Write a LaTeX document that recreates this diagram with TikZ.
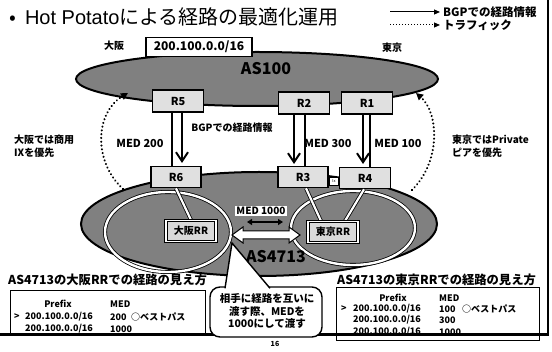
\documentclass[tikz,border=0pt]{standalone}
\usepackage{fontspec}
\setmainfont{Noto Sans CJK JP}
\newfontfamily\lat{Liberation Sans}
\usetikzlibrary{arrows.meta}
\begin{document}
\begin{tikzpicture}[x=1pt,y=-1pt,
  rbox/.style={draw=black, line width=1.6pt, fill=black!12, minimum width=51pt, minimum height=22pt, font=\bfseries\fontsize{11}{11}\selectfont, inner sep=0pt},
  rrbox/.style={draw=black, line width=1pt, double=white, double distance=1.6pt, fill=black!15, minimum width=50pt, minimum height=21pt, font=\bfseries\fontsize{10}{10}\selectfont, inner sep=0pt},
  lbl/.style={font=\bfseries\fontsize{10}{10}\selectfont, inner sep=0pt},
  leglbl/.style={font=\bfseries\fontsize{11.5}{11.5}\selectfont, inner sep=0pt, anchor=west},
  medlbl/.style={font=\bfseries\fontsize{11}{11}\selectfont, inner sep=0pt},
  side/.style={font=\bfseries\fontsize{10}{12.5}\selectfont, inner sep=0pt, align=left, anchor=west},
  head/.style={font=\bfseries\fontsize{12.3}{12.3}\selectfont, inner sep=0pt, anchor=west},
  tbl/.style={font=\bfseries\fontsize{9}{9}\selectfont, inner sep=0pt, anchor=west},
  bgp/.style={line width=2pt, -{Straight Barb[length=9pt,width=12pt,line width=2pt]}},
  link/.style={line width=1.2pt},
  wlink/.style={draw=black, line width=0.8pt, double=white, double distance=2.2pt},
  traffic/.style={line width=2.3pt, line cap=round, dash pattern=on 0.01pt off 3.8pt, -{Triangle[length=7pt,width=7pt]}},
  bigtxt/.style={font=\bfseries\fontsize{16}{16}\selectfont, inner sep=0pt}
]
\useasboundingbox (0,0) rectangle (552,352);
\fill[white] (0,0) rectangle (552,352);

% title and legend
\node[anchor=west, inner sep=0pt, font=\fontsize{20}{20}\selectfont] (title) at (9,17) {•\hspace{9pt}{\lat Hot Potato}による経路の最適化運用};
\coordinate (l1a) at (390,12); \coordinate (l1b) at (440,12);
\coordinate (l2a) at (390,25); \coordinate (l2b) at (440,25);
\draw[line width=1pt, -{Triangle[length=6pt,width=5pt]}] (l1a) -- (l1b);
\draw[line width=1pt, dotted, -{Triangle[length=6pt,width=5pt]}] (l2a) -- (l2b);
\node[leglbl] (leg1) at (443,12) {BGPでの経路情報};
\node[leglbl] (leg2) at (443,25) {トラフィック};

% right border
\draw[line width=1.4pt] (548,0) -- (548,334);

% AS100
\draw[line width=2pt, fill=black!50] (257,79) ellipse [x radius=181pt, y radius=27pt];
\node[bigtxt] (as100) at (266,69) {AS100};
\node[draw=black, line width=1.6pt, fill=white, minimum width=106pt, minimum height=19pt, inner sep=0pt, font=\bfseries\fontsize{12}{12}\selectfont] (pfx) at (199,47) {200.100.0.0/16};
\node[lbl] (osaka) at (114,46) {大阪};
\node[lbl] (tokyo) at (392,48) {東京};

% AS4713
\draw[line width=2pt, fill=black!50] (259,224) ellipse [x radius=178pt, y radius=52pt];
\draw[draw=black, line width=0.8pt, double=white, double distance=2.4pt] (168,232) ellipse [x radius=63pt, y radius=40pt];
\draw[draw=black, line width=0.8pt, double=white, double distance=2.4pt] (353,228) ellipse [x radius=62pt, y radius=37pt];

% routers
\node[rbox] (R5) at (178,101) {R5};
\node[rbox] (R2) at (304,103) {R2};
\node[rbox] (R1) at (367,103) {R1};
\node[rbox, minimum width=50pt, minimum height=21pt] (R6) at (176,177) {R6};
\node[rbox, minimum width=50pt, minimum height=21pt] (R3) at (303,177) {R3};
\node[rbox, minimum width=51pt, minimum height=21pt] (R4) at (365,178) {R4};
\node[draw=black, line width=0.8pt, fill=white, minimum width=9pt, minimum height=8pt, inner sep=0pt, font=\fontsize{4}{4}\selectfont] (ix) at (334,181) {Ix};
\draw[link] (R3.east |- ix.west) -- (ix.west);
\draw[link] (ix.east) -- (R4.west |- ix.east);

% links and BGP arrows
\draw[link] (R5.south -| 172,0) -- (R6.north -| 172,0);
\draw[link] (R2.south -| 305,0) -- (R3.north -| 305,0);
\draw[link] (R1.south -| 370,0) -- (R4.north -| 370,0);
\coordinate (a5) at (182,163); \coordinate (a2) at (294,164); \coordinate (a1) at (363,164);
\draw[bgp] (R5.south -| a5) -- (a5);
\draw[bgp] (R2.south -| a2) -- (a2);
\draw[bgp] (R1.south -| a1) -- (a1);

\node[medlbl] (m200) at (140,143) {MED 200};
\node[medlbl] (m300) at (328,143) {MED 300};
\node[medlbl] (m100) at (398,143) {MED 100};
\node[lbl] (bgplbl) at (232,128) {BGPでの経路情報};
\node[side] (oskt) at (14,146) {大阪では商用\\IXを優先};
\node[side] (tkyt) at (452,146) {東京ではPrivate\\ピアを優先};

% RR
\node[rrbox] (ORR) at (191,231) {大阪RR};
\node[rrbox] (TRR) at (333,232) {東京RR};
\draw[wlink] (R6.south) -- (ORR.north);
\draw[wlink] ([xshift=3pt]R3.south) -- ([xshift=-12pt]TRR.north);
\draw[wlink] ([xshift=-1pt]R4.south) -- ([xshift=12pt]TRR.north);
\node[rrbox] at (ORR) {大阪RR};
\node[rrbox] at (TRR) {東京RR};

\node[font=\bfseries\fontsize{10}{10}\selectfont, fill=white, inner sep=1pt] (m1000) at (261,211) {MED 1000};
\coordinate (s1) at (247,222); \coordinate (s2) at (283,222);
\draw[line width=1.5pt, {Triangle[length=5pt,width=6pt]}-{Triangle[length=5pt,width=6pt]}] (s1) -- (s2);
\draw[line width=1pt, fill=white] (232,235) -- (243,227) -- (243,231) -- (289,231) -- (289,227) -- (300,235) -- (289,243) -- (289,239) -- (243,239) -- (243,243) -- cycle;
\node[bigtxt] (as4713) at (276,257) {AS4713};

% traffic arrows
\coordinate (t1s) at (123,189); \coordinate (t1e) at (128,93);
\coordinate (t2s) at (412,190); \coordinate (t2e) at (416,93);
\draw[traffic] (t1s) .. controls (92,160) and (96,112) .. (t1e);
\draw[traffic] (t2s) .. controls (442,160) and (438,112) .. (t2e);

% tables
\node[head] (hl) at (8,280) {AS4713の大阪RRでの経路の見え方};
\node[head] (hr) at (337,280) {AS4713の東京RRでの経路の見え方};
\draw[line width=1pt] (10,291) rectangle (205,335);
\draw[line width=1pt] (336,288) rectangle (539,341);
\node[tbl, anchor=center] at (58,304) {Prefix};
\node[tbl] at (110,304) {MED};
\node[tbl] at (14,317) {>};
\node[tbl] at (25,317) {200.100.0.0/16};
\node[tbl] at (110,317) {200};
\node[tbl] at (131,317) {○ベストパス};
\node[tbl] at (25,329) {200.100.0.0/16};
\node[tbl] at (110,329) {1000};

\node[tbl, anchor=center] at (393,298) {Prefix};
\node[tbl] at (439,298) {MED};
\node[tbl] at (341,309) {>};
\node[tbl] at (353,309) {200.100.0.0/16};
\node[tbl] at (439,309) {100};
\node[tbl] at (462,309) {○ベストパス};
\node[tbl] at (353,320) {200.100.0.0/16};
\node[tbl] at (439,320) {300};
\node[tbl] at (353,332) {200.100.0.0/16};
\node[tbl] at (439,332) {1000};

\draw[line width=3pt] (0,335) -- (549,335);

% callout
\draw[line width=1.4pt, fill=white, rounded corners=10pt] (210,287) rectangle (322,337);
\fill[white] (232,243) -- (225,289) -- (270,289) -- cycle;
\draw[line width=1.4pt] (225,288.3) -- (232,243) -- (270,288.3);
\node[font=\bfseries\fontsize{10.5}{12.5}\selectfont, align=center, inner sep=0pt] (bub) at (267,311) {相手に経路を互いに\\渡す際、MEDを\\1000にして渡す};

\node[font=\bfseries\fontsize{7}{7}\selectfont, inner sep=0pt] (pg) at (275,344) {16};
\end{tikzpicture}
\end{document}
